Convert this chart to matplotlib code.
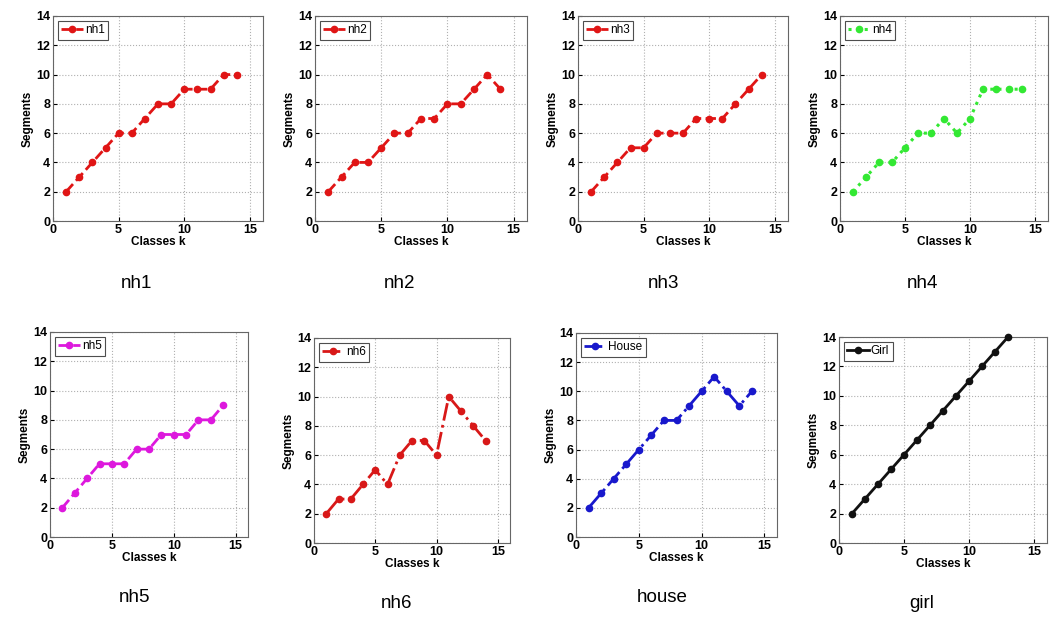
import numpy as np
import matplotlib
matplotlib.use('Agg')
import matplotlib.pyplot as plt

plt.rcParams['font.family'] = 'Liberation Sans'

# segments per number of classes k
k14 = list(range(1, 15))
k13 = list(range(1, 14))
nh1 = [2, 3, 4, 5, 6, 6, 7, 8, 8, 9, 9, 9, 10, 10]
nh2 = [2, 3, 4, 4, 5, 6, 6, 7, 7, 8, 8, 9, 10, 9]
nh3 = [2, 3, 4, 5, 5, 6, 6, 6, 7, 7, 7, 8, 9, 10]
nh4 = [2, 3, 4, 4, 5, 6, 6, 7, 6, 7, 9, 9, 9, 9]
nh5 = [2, 3, 4, 5, 5, 5, 6, 6, 7, 7, 7, 8, 8, 9]
nh6 = [2, 3, 3, 4, 5, 4, 6, 7, 7, 6, 10, 9, 8, 7]
house = [2, 3, 4, 5, 6, 7, 8, 8, 9, 10, 11, 10, 9, 10]
girl = [2, 3, 4, 5, 6, 7, 8, 9, 10, 11, 12, 13, 14]

W, H = 1055, 621
fig = plt.figure(figsize=(W/100, H/100), dpi=100)

# x, y, legend, caption, colour, linestyle, axes box in px (left, top, right, bottom), caption pos
panels = [
    (k14, nh1, 'nh1', 'nh1', '#e01515', '--', (53, 16, 263, 221), (136, 283)),
    (k14, nh2, 'nh2', 'nh2', '#e01515', '--', (315, 16, 527, 221), (400, 283)),
    (k14, nh3, 'nh3', 'nh3', '#e01515', '--', (578, 16, 788, 221), (663, 283)),
    (k14, nh4, 'nh4', 'nh4', '#33e833', ':', (840, 16, 1048, 221), (922, 283)),
    (k14, nh5, 'nh5', 'nh5', '#dd18dd', '--', (50, 332, 248, 537), (135, 597)),
    (k14, nh6, 'nh6', 'nh6', '#d81818', '-.', (314, 338, 510, 543), (397, 603)),
    (k14, house, 'House', 'house', '#1818cc', '-.', (576, 333, 777, 537), (662, 597)),
    (k13, girl, 'Girl', 'girl', '#111111', '-', (839, 337, 1047, 543), (922, 604)),
]

for x, y, lab, cap, col, ls, box, cpos in panels:
    l, t, r, b = box
    ax = fig.add_axes([l/W, 1-b/H, (r-l)/W, (b-t)/H])
    ax.plot(x, y, linestyle=ls, color=col, marker='o', markersize=4.5,
            linewidth=2 if ls != ':' else 2.2, label=lab, clip_on=False, zorder=3)
    ax.set_xlim(0, 16)
    ax.set_ylim(0, 14)
    ax.set_xticks([0, 5, 10, 15])
    ax.set_yticks(range(0, 15, 2))
    ax.grid(True, linestyle=':', color='#b0b0b0', linewidth=0.8)
    ax.tick_params(direction='in', labelsize=9, length=3, pad=2)
    for tl in ax.get_xticklabels() + ax.get_yticklabels():
        tl.set_fontweight('bold')
    for s in ax.spines.values():
        s.set_color('#666666')
        s.set_linewidth(0.8)
    ax.set_xlabel('Classes k', fontsize=8.5, fontweight='bold', labelpad=0)
    ax.set_ylabel('Segments', fontsize=8.5, fontweight='bold', labelpad=2)
    leg = ax.legend(loc='upper left', fontsize=8.5, fancybox=False, handlelength=1.8,
                    handletextpad=0.2, borderpad=0.3, borderaxespad=0.4)
    leg.get_frame().set_edgecolor('#222222')
    leg.get_frame().set_linewidth(0.8)
    fig.text(cpos[0]/W, 1-cpos[1]/H, cap, fontsize=13.5, ha='center', va='center')

fig.savefig('out.png', dpi=100)
